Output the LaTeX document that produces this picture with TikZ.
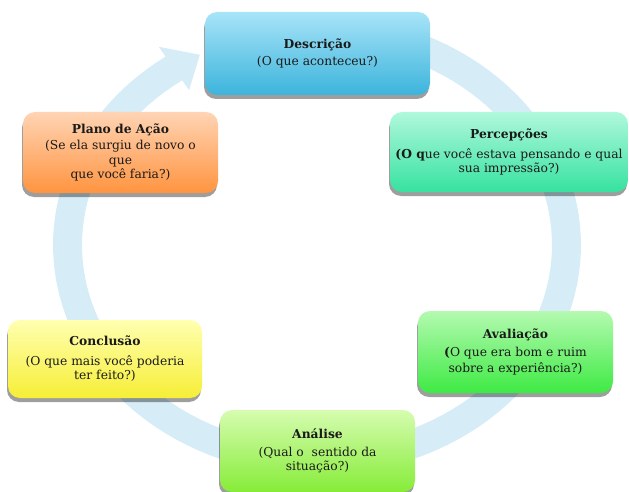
\documentclass[tikz,border=0pt]{standalone}
\usepackage{fontspec}
\setmainfont{DejaVu Serif}
\usetikzlibrary{shadows,positioning}

\definecolor{ringblue}{HTML}{D6EDF7}
\definecolor{inktext}{HTML}{1A1A1A}
\definecolor{descTop}{HTML}{A8E4F8}  \definecolor{descBot}{HTML}{3CB4DC}
\definecolor{percTop}{HTML}{B0F8DC}  \definecolor{percBot}{HTML}{36E2A0}
\definecolor{avalTop}{HTML}{B4FAB0}  \definecolor{avalBot}{HTML}{3EEA44}
\definecolor{analTop}{HTML}{D6FCB0}  \definecolor{analBot}{HTML}{86EC38}
\definecolor{conclTop}{HTML}{FFFFB0} \definecolor{conclBot}{HTML}{F6EE36}
\definecolor{planoTop}{HTML}{FFD4B4} \definecolor{planoBot}{HTML}{FF9440}

\begin{document}
\begin{tikzpicture}[x=1pt, y=-1pt,
  stage/.style={rounded corners=12pt, align=center, inner sep=0pt, text=inktext,
    font=\fontsize{12.3}{14.5}\selectfont,
    drop shadow={shadow xshift=-1pt, shadow yshift=-4pt, fill=black, opacity=0.38}}]

\useasboundingbox (0,0) rectangle (629,492);

  % Background cycle arrow
\fill[ringblue] plot[domain=-100:235, samples=120] ({317+264*cos(\x)},{245+230*sin(\x)}) -- ({317+276*cos(235)},{245+242*sin(235)}) -- ({317+249.5*cos(242)},{245+215.5*sin(242)}) -- ({317+223*cos(235)},{245+189*sin(235)}) -- plot[domain=235:-100, samples=120] ({317+235*cos(\x)},{245+201*sin(\x)}) -- cycle;

  % Define the stages of the cycle
\node[stage, minimum width=225pt, minimum height=83pt, top color=descTop, bottom color=descBot] (desc) at (317.5, 53.5) {\textbf{Descrição}\\[3pt](O que aconteceu?)};
\node[stage, minimum width=238pt, minimum height=80pt, top color=percTop, bottom color=percBot] (perc) at (509, 152) {\textbf{Percepções}\\[5pt]\textbf{(O q}ue você estava pensando e qual\\sua impressão?)};
\node[stage, minimum width=195pt, minimum height=82pt, top color=avalTop, bottom color=avalBot] (aval) at (515.5, 352) {\textbf{Avaliação}\\[3pt]\textbf{(}O que era bom e ruim\\[2pt]sobre a experiência?)};
\node[stage, minimum width=195pt, minimum height=82pt, top color=analTop, bottom color=analBot] (anal) at (317.5, 451) {\textbf{Análise}\\[3pt](Qual o\ \ sentido da\\situação?)};
\node[stage, minimum width=194pt, minimum height=78pt, top color=conclTop, bottom color=conclBot] (concl) at (105, 359) {\textbf{Conclusão}\\[5pt](O que mais você poderia\\ter feito?)};
\node[stage, minimum width=195pt, minimum height=81pt, top color=planoTop, bottom color=planoBot] (plano) at (120.5, 152.5) {\textbf{Plano de Ação}\\[2pt](Se ela surgiu de novo o\\que\\que você faria?)};

\end{tikzpicture}
\end{document}
